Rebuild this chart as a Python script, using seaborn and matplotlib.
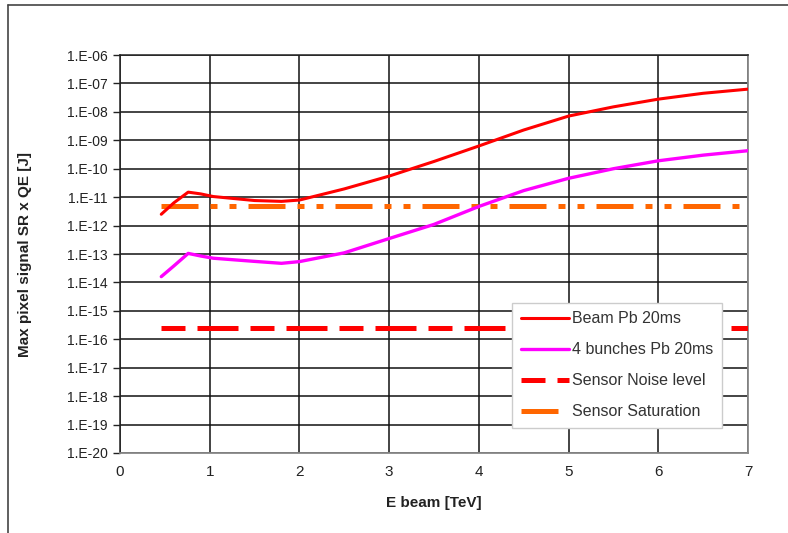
import matplotlib
matplotlib.use("Agg")
import matplotlib.pyplot as plt
from matplotlib.lines import Line2D
from matplotlib.ticker import FixedLocator, FuncFormatter, NullLocator
import numpy as np
import pandas as pd
import seaborn as sns

# Beam energy [TeV]
energy = [0.46, 0.6, 0.76, 0.9, 1.04, 1.5, 1.8, 2.0, 2.5, 3.0, 3.5,
          4.0, 4.5, 5.0, 5.5, 6.0, 6.5, 7.0]
# Max pixel signal SR x QE [J], full beam
beam_pb = [2.5e-12, 6.3e-12, 1.5e-11, 1.3e-11, 1.05e-11, 7.6e-12, 7.1e-12,
           7.9e-12, 1.95e-11, 5.5e-11, 1.8e-10, 6.3e-10, 2.3e-9, 7.1e-9,
           1.5e-8, 2.8e-8, 4.5e-8, 6.3e-8]
# Max pixel signal SR x QE [J], 4 bunches
bunches_pb = [1.6e-14, 3.8e-14, 1.05e-13, 8.5e-14, 7.1e-14, 5.5e-14, 4.7e-14,
              5.4e-14, 1.1e-13, 3.5e-13, 1.1e-12, 4.7e-12, 1.7e-11, 4.6e-11,
              1.0e-10, 1.9e-10, 3.0e-10, 4.3e-10]
# Sensor limits
level_x = [0.46, 7.0]
noise_level = 2.5e-16
saturation_level = 5.0e-12

series_names = ["Beam Pb 20ms", "4 bunches Pb 20ms",
                "Sensor Noise level", "Sensor Saturation"]
x_ticks = [0, 1, 2, 3, 4, 5, 6, 7]
y_exponents = list(range(-20, -5))

sns.set_theme(style="white")
plt.rcParams["font.family"] = ["Liberation Sans", "DejaVu Sans"]
narrow = ["Liberation Sans Narrow", "Liberation Sans"]

fig = plt.figure(figsize=(7.88, 5.33), dpi=100)
ax = fig.add_axes([0.1523, 0.1501, 0.7969, 0.7467])

curves = pd.DataFrame({"E": energy, "beam": beam_pb, "bunches": bunches_pb})
levels = pd.DataFrame({"E": level_x,
                       "noise": [noise_level] * len(level_x),
                       "sat": [saturation_level] * len(level_x)})

sns.lineplot(data=curves, x="E", y="beam", ax=ax, color="#ff0000",
             lw=2.2, label=series_names[0], zorder=4)
sns.lineplot(data=curves, x="E", y="bunches", ax=ax, color="#ff00ff",
             lw=2.4, label=series_names[1], zorder=4)
sns.lineplot(data=levels, x="E", y="noise", ax=ax, color="#ff0000",
             lw=3.6, label=series_names[2], zorder=3)
ax.lines[-1].set_dashes([4.8, 2.4, 8.2, 2.4])
ax.lines[-1].set_dash_capstyle("butt")
sns.lineplot(data=levels, x="E", y="sat", ax=ax, color="#ff6600",
             lw=3.6, label=series_names[3], zorder=3)
ax.lines[-1].set_dashes([7.4, 2.4, 1.4, 2.4, 1.4, 2.4])
ax.lines[-1].set_dash_capstyle("butt")

ax.set_yscale("log")
ax.set_xlim(0, 7)
ax.set_ylim(1e-20, 1e-6)

ax.xaxis.set_major_locator(FixedLocator(x_ticks))
ax.yaxis.set_major_locator(FixedLocator([10.0 ** e for e in y_exponents]))
ax.yaxis.set_minor_locator(NullLocator())
ax.yaxis.set_major_formatter(
    FuncFormatter(lambda v, p: "1.E-%02d" % round(-np.log10(v))))
ax.xaxis.set_major_formatter(FuncFormatter(lambda v, p: "%d" % v))

ax.grid(True, which="major", color="#111111", lw=1.1)
ax.set_axisbelow(True)
for side in ["left", "top"]:
    ax.spines[side].set_color("#222222")
    ax.spines[side].set_linewidth(1.1)
for side in ["right", "bottom"]:
    ax.spines[side].set_color("#888888")
    ax.spines[side].set_linewidth(1.3)

ax.tick_params(axis="y", which="major", length=5, width=1, color="#222222",
               labelsize=10, pad=4, labelcolor="#222222", left=True)
ax.tick_params(axis="x", which="major", length=0, labelsize=11, pad=9,
               labelcolor="#222222")
for lbl in ax.get_xticklabels():
    lbl.set_family(narrow)

ax.set_xlabel("E beam [TeV]", fontsize=11, fontweight="bold",
              family=narrow, color="#222222")
ax.set_ylabel("Max pixel signal SR x QE [J]", fontsize=11,
              fontweight="bold", color="#222222")
ax.xaxis.set_label_coords(0.5, -0.108)
ax.yaxis.set_label_coords(-0.14, 0.5)

leg = ax.legend(loc="upper left", bbox_to_anchor=(0.625, 0.378),
                fontsize=11.5, frameon=True, fancybox=False, shadow=False,
                handlelength=3.0, handletextpad=0.2, labelspacing=1.0,
                borderpad=0.55, borderaxespad=0.0)
leg.get_frame().set_edgecolor("#cccccc")
leg.get_frame().set_linewidth(1.0)
leg.get_frame().set_facecolor("white")
leg.get_frame().set_alpha(1.0)
for t in leg.get_texts():
    t.set_color("#333333")

# Outer frame: top and left edges
fig.add_artist(Line2D([8 / 788, 1.0], [1 - 5 / 533, 1 - 5 / 533],
                      transform=fig.transFigure, color="#444444", lw=1.2))
fig.add_artist(Line2D([8 / 788, 8 / 788], [0.0, 1 - 5 / 533],
                      transform=fig.transFigure, color="#444444", lw=1.2))

fig.savefig("out.png", dpi=100)
